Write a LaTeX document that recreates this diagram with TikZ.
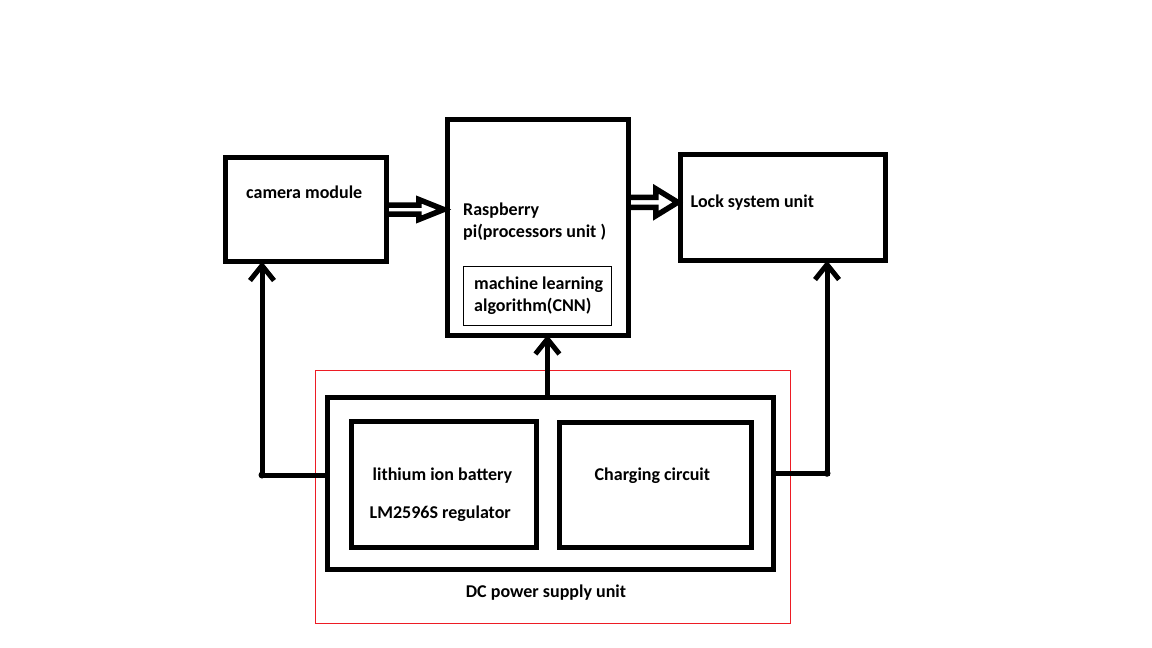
\documentclass[tikz,border=0pt]{standalone}
\usepackage{fontspec}
\setmainfont{Carlito}
\usetikzlibrary{arrows.meta,calc}
\definecolor{paintred}{RGB}{237,28,36}
\begin{document}
\begin{tikzpicture}[x=1pt,y=-1pt,
  box/.style={draw,line width=5pt,inner sep=0pt,outer sep=0pt},
  thinbox/.style={draw,line width=1pt,inner sep=0pt,outer sep=0pt},
  lbl/.style={font=\bfseries\fontsize{18}{21}\selectfont,inner sep=0pt},
  wire/.style={line width=5pt},
  hollow/.style={line width=5.5pt,line join=miter},
  barb/.style={-{Straight Barb[length=15pt,width=24pt,line join=miter]}},
  dot/.style={circle,fill,inner sep=0pt,minimum size=7pt}]
\useasboundingbox (0,0) rectangle (1152,648);
% boxes
\node[box,minimum width=161.5pt,minimum height=104pt] (cam) at (306,209.5) {};
\node[box,minimum width=181.5pt,minimum height=216pt] (rpi) at (538,227) {};
\node[thinbox,minimum width=148.4pt,minimum height=59.3pt] (ml) at (537.5,295.7) {};
\node[box,minimum width=205pt,minimum height=106.5pt] (lock) at (783,207.3) {};
\node[draw=paintred,line width=1pt,inner sep=0pt,minimum width=475pt,minimum height=253pt] (red) at (552.5,496.5) {};
\node[box,minimum width=445.2pt,minimum height=171.5pt] (pow) at (550.4,483.25) {};
\node[box,minimum width=184.7pt,minimum height=126.3pt] (bat) at (443.65,484.15) {};
\node[box,minimum width=191.7pt,minimum height=124.6pt] (chg) at (655.15,485) {};
% labels
\node[lbl,anchor=base west] (tcam) at (246,198.5) {camera module};
\node[lbl,anchor=base west] (trpi1) at (463,215.5) {Raspberry};
\node[lbl,anchor=base west] (trpi2) at (463,237) {pi(processors unit )};
\node[lbl,anchor=base west] (tml1) at (474,289) {machine learning};
\node[lbl,anchor=base west] (tml2) at (474,311.5) {algorithm(CNN)};
\node[lbl,anchor=base west] (tlock) at (690.5,207.5) {Lock system unit};
\node[lbl,anchor=base west] (tbat1) at (372.5,480.5) {lithium ion battery};
\node[lbl,anchor=base west] (tbat2) at (369.5,518.5) {LM2596S regulator};
\node[lbl,anchor=base west] (tchg) at (594.5,480) {Charging circuit};
\node[lbl,anchor=base] (tpow) at (546,597) {DC power supply unit};
% hollow arrows
\draw[hollow] (cam.east) ++(0,-4.5) -- ++(32,0) -- ++(0,-5.5) -- ++(25,10) -- ++(-25,10) -- ++(0,-5.5) -- ++(-32,0);
\draw[hollow] ([yshift=5pt]rpi.east |- lock.west) ++(0,-5) -- ++(27,0) -- ++(0,-8.5) -- ++(22,13.5) -- ++(-22,13.5) -- ++(0,-8.5) -- ++(-27,0);
% power connectors
\coordinate (lc) at (262,475);
\coordinate (rc) at (827,473.3);
\draw[wire,barb] ([xshift=-3pt]pow.north) -- ([xshift=-3pt]pow.north |- rpi.south);
\draw[wire,barb] (lc -| pow.west) -- (lc) -- (lc |- cam.south);
\draw[wire,barb] (rc -| pow.east) -- (rc) -- (rc |- lock.south);
\node[dot] (ldot) at (lc) {};
\node[dot] (rdot) at (rc) {};
\end{tikzpicture}
\end{document}
